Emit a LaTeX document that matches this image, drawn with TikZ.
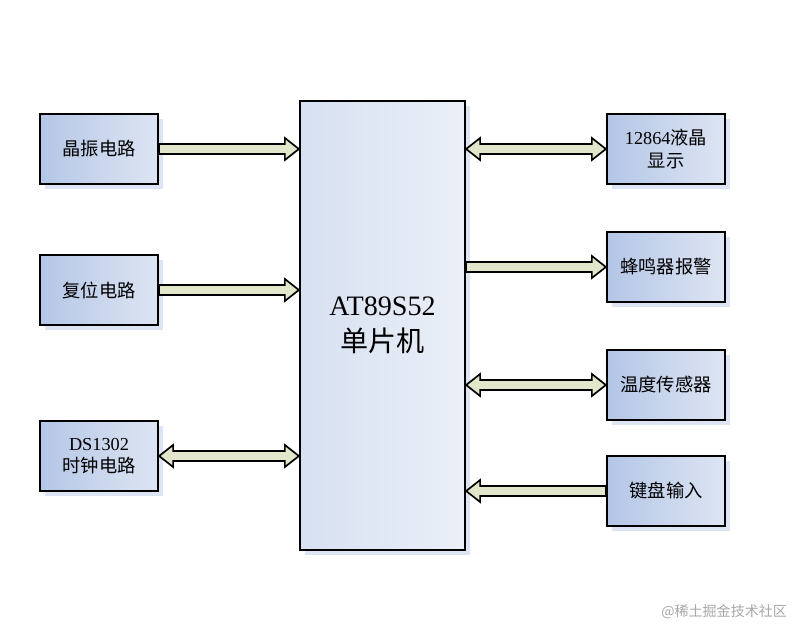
\documentclass[tikz,border=0pt]{standalone}
\usepackage{fontspec}
\setmainfont{Liberation Serif}
\newfontfamily\cjk{Noto Sans CJK SC}
\usetikzlibrary{calc}
\definecolor{boxL}{HTML}{B4C6E6}
\definecolor{boxR}{HTML}{DDE5F3}
\definecolor{shaft}{HTML}{E2E6CA}
\tikzset{
  blk/.style={draw, line width=1.6pt, left color=boxL, right color=boxR, minimum width=118\px, minimum height=70\px, align=center, font=\fontsize{13}{16}\selectfont, inner sep=1pt},
  shadow/.style={fill=boxL!45, draw=none},
  fat/.style={draw, line width=1.2pt, fill=shaft, line join=miter}
}
\newdimen\px \px=0.7113pt
% one head at the second end
\newcommand\onehead[2]{\draw[fat] let \p1=(#1), \p2=(#2), \n1={ifthenelse(\x2>\x1,1,-1)} in
  (\x1,\y1+5\px) -- (\x2-\n1*14\px,\y1+5\px) -- (\x2-\n1*14\px,\y1+11\px) -- (\x2,\y1)
  -- (\x2-\n1*14\px,\y1-11\px) -- (\x2-\n1*14\px,\y1-5\px) -- (\x1,\y1-5\px) -- cycle;}
% heads at both ends
\newcommand\twohead[2]{\draw[fat] let \p1=(#1), \p2=(#2) in
  (\x1,\y1) -- (\x1+14\px,\y1+11\px) -- (\x1+14\px,\y1+5\px) -- (\x2-14\px,\y1+5\px) -- (\x2-14\px,\y1+11\px) -- (\x2,\y1)
  -- (\x2-14\px,\y1-11\px) -- (\x2-14\px,\y1-5\px) -- (\x1+14\px,\y1-5\px) -- (\x1+14\px,\y1-11\px) -- cycle;}
\begin{document}
\begin{tikzpicture}[x=\px,y=-\px]
\useasboundingbox (0,0) rectangle (797,629);
% shadows
\foreach \x/\y in {99/149,99/290,99/456,666/149,666/267,666/385,666/491}
  \fill[shadow] (\x-54,\y-30) rectangle (\x+64,\y+40);
\fill[shadow] (305,106) rectangle (470,555);
% blocks
\node[blk] (xtal) at (99,149) {\cjk 晶振电路};
\node[blk] (rst) at (99,290) {\cjk 复位电路};
\node[blk] (rtc) at (99,456) {DS1302\\{\cjk 时钟电路}};
\node[blk, minimum width=165\px, minimum height=449\px, left color=boxR!85!boxL, right color=boxR!60, font=\fontsize{20}{26}\selectfont] (mcu) at (382.5,325.5) {AT89S52\\{\cjk 单片机}};
\node[blk] (lcd) at (666,149) {12864{\cjk 液晶}\\{\cjk 显示}};
\node[blk] (buz) at (666,267) {\cjk 蜂鸣器报警};
\node[blk] (tmp) at (666,385) {\cjk 温度传感器};
\node[blk] (key) at (666,491) {\cjk 键盘输入};
% connectors
\onehead{xtal.east}{mcu.west |- xtal.east}
\onehead{rst.east}{mcu.west |- rst.east}
\twohead{rtc.east}{mcu.west |- rtc.east}
\twohead{mcu.east |- lcd.west}{lcd.west}
\onehead{mcu.east |- buz.west}{buz.west}
\twohead{mcu.east |- tmp.west}{tmp.west}
\onehead{key.west}{mcu.east |- key.west}
\node[text=gray!70, font=\cjk\fontsize{10}{12}\selectfont, anchor=east] (wm) at (792,612) {@稀土掘金技术社区};
\end{tikzpicture}
\end{document}
